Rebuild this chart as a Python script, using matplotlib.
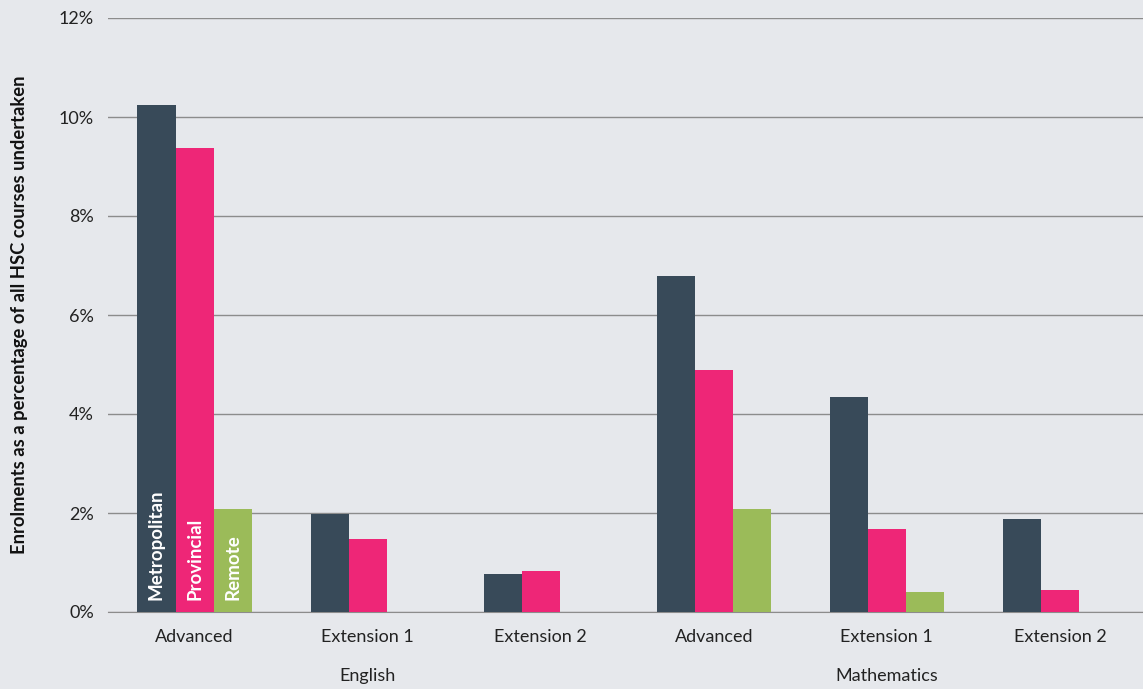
import numpy as np
import matplotlib
matplotlib.use('Agg')
import matplotlib.pyplot as plt

plt.rcParams['font.family'] = ['Lato', 'DejaVu Sans']

# Enrolments as % of all HSC courses, by course and location
courses = ["Advanced", "Extension 1", "Extension 2", "Advanced", "Extension 1", "Extension 2"]
subjects = ["English", "Mathematics"]
metropolitan = [10.24, 1.98, 0.77, 6.79, 4.34, 1.88]
provincial = [9.37, 1.47, 0.83, 4.89, 1.68, 0.44]
remote = [2.08, 0.0, 0.0, 2.08, 0.40, 0.0]

series = [("Metropolitan", metropolitan, "#384a59"),
          ("Provincial", provincial, "#ee2677"),
          ("Remote", remote, "#9bbb59")]

bg = "#e6e8ec"
fig = plt.figure(figsize=(11.43, 6.89), dpi=100, facecolor=bg)
ax = fig.add_axes([108/1143, 1 - 612/689, 1 - 108/1143, (612 - 18)/689])
ax.set_facecolor(bg)

x = np.arange(len(courses))
w = 0.22
for i, (name, vals, col) in enumerate(series):
    bars = ax.bar(x + (i - 1) * w, vals, width=w, color=col, zorder=3)
    # label inside first bar of each series
    b = bars[0]
    ax.text(b.get_x() + b.get_width() / 2, 0.25, name, rotation=90,
            color="white", fontsize=13.5, fontweight="bold",
            ha="center", va="bottom", zorder=4)

ax.set_ylim(0, 12)
ax.set_xlim(-0.5, 5.48)
ax.set_yticks(np.arange(0, 13, 2))
ax.set_yticklabels([f"{v}%" for v in range(0, 13, 2)], fontsize=13, color="#222222")
ax.yaxis.grid(True, color="#8c8c8c", linewidth=1, zorder=0)
ax.set_xticks(x)
ax.set_xticklabels(courses, fontsize=13, color="#222222")
ax.tick_params(axis="both", length=0, pad=10)
ax.tick_params(axis="x", pad=12)
for s in ["top", "right", "left"]:
    ax.spines[s].set_visible(False)
ax.spines["bottom"].set_color("#8c8c8c")

for j, subj in enumerate(subjects):
    ax.text(1 + 3 * j, -1.3, subj, ha="center", va="center", fontsize=13,
            color="#222222", transform=ax.transData, clip_on=False)

ax.set_ylabel("Enrolments as a percentage of all HSC courses undertaken",
              fontsize=13.2, fontweight="bold", color="#111111", labelpad=22)

fig.savefig("out.png", dpi=100, facecolor=bg)
